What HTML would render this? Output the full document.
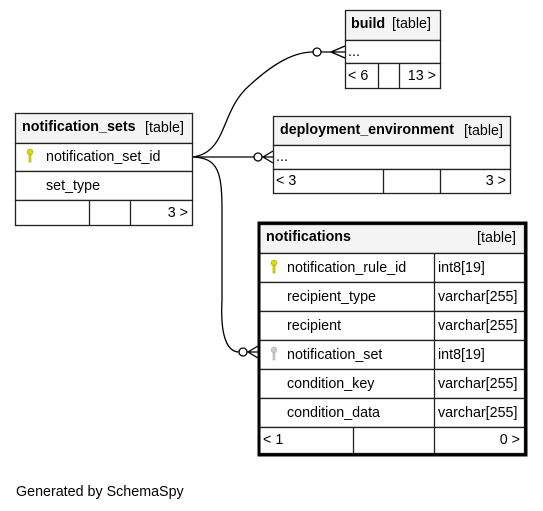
<!DOCTYPE html>
<html><head><style>
body{margin:0;background:#fff;}
svg{display:block;font-family:"Liberation Sans",Helvetica,Arial,sans-serif;font-size:14.3px;}
</style></head><body>
<svg width="543" height="511" viewBox="0 0 543 511">
<g fill="none" stroke="#000" stroke-width="1.3">
<path d="M193,157 C228,152 220,110 250,85 C275,62 295,52 313,52"/>
<circle cx="317" cy="52" r="4" fill="#fff"/>
<path d="M321,52 L345,52 M331,52 L345,46 M331,52 L345,58"/>
<path d="M193,157 L254,157"/>
<circle cx="258" cy="157" r="4" fill="#fff"/>
<path d="M262,157 L273,157 M263,157 L273,151 M263,157 L273,163"/>
<path d="M193,157 C218,158 222,172 222,210 L222,300 C220,338 228,352 239,352"/>
<circle cx="243" cy="352" r="4" fill="#fff"/>
<path d="M247,352 L258,352 M248,352 L258,346 M248,352 L258,358"/>
</g>
<!-- build -->
<g stroke="#222" stroke-width="1.3">
<rect x="345.5" y="10.5" width="95" height="30" fill="#f4f4f4"/>
<rect x="345.5" y="40.5" width="95" height="23" fill="#fff"/>
<rect x="345.5" y="63.5" width="95" height="25" fill="#fff"/>
<line x1="378.5" y1="63.5" x2="378.5" y2="88.5"/><line x1="399.5" y1="63.5" x2="399.5" y2="88.5"/>
</g>
<text x="351" y="28" font-weight="bold">build</text><text x="392" y="28">[table]</text>
<text x="348" y="56">...</text><text x="348" y="80">&lt; 6</text><text x="436" y="80" text-anchor="end">13 &gt;</text>
<!-- notification_sets -->
<g stroke="#222" stroke-width="1.3">
<rect x="15.5" y="113.5" width="177" height="30" fill="#f4f4f4"/>
<rect x="15.5" y="143.5" width="177" height="28" fill="#fff"/>
<rect x="15.5" y="171.5" width="177" height="29" fill="#fff"/>
<rect x="15.5" y="200.5" width="177" height="25" fill="#fff"/>
<line x1="89.5" y1="200.5" x2="89.5" y2="225.5"/><line x1="130.5" y1="200.5" x2="130.5" y2="225.5"/>
</g>
<text x="22" y="131" font-weight="bold">notification_sets</text><text x="145" y="132">[table]</text>
<g fill="#e0e000" stroke="#aaa000" stroke-width=".6"><circle cx="30" cy="152" r="2.8"/><rect x="29" y="154" width="2" height="8"/></g>
<text x="46" y="161">notification_set_id</text>
<text x="46" y="190">set_type</text>
<text x="188" y="217" text-anchor="end">3 &gt;</text>
<!-- deployment_environment -->
<g stroke="#222" stroke-width="1.3">
<rect x="273.5" y="116.5" width="237" height="29" fill="#f4f4f4"/>
<rect x="273.5" y="145.5" width="237" height="24" fill="#fff"/>
<rect x="273.5" y="169.5" width="237" height="24" fill="#fff"/>
<line x1="383.5" y1="169.5" x2="383.5" y2="193.5"/><line x1="440.5" y1="169.5" x2="440.5" y2="193.5"/>
</g>
<text x="280" y="134" font-weight="bold">deployment_environment</text><text x="464" y="135">[table]</text>
<text x="276" y="161">...</text><text x="276" y="185">&lt; 3</text><text x="506" y="185" text-anchor="end">3 &gt;</text>
<!-- notifications -->
<g stroke="#222" stroke-width="1.3" fill="#fff">
<rect x="259.5" y="224.5" width="265" height="29" fill="#f4f4f4"/>
<rect x="259.5" y="253.5" width="265" height="29"/>
<rect x="259.5" y="282.5" width="265" height="29"/>
<rect x="259.5" y="311.5" width="265" height="29"/>
<rect x="259.5" y="340.5" width="265" height="29"/>
<rect x="259.5" y="369.5" width="265" height="29"/>
<rect x="259.5" y="398.5" width="265" height="29"/>
<rect x="259.5" y="427.5" width="265" height="26"/>
<line x1="434.5" y1="253.5" x2="434.5" y2="453.5"/><line x1="353.5" y1="427.5" x2="353.5" y2="453.5"/>
</g>
<rect x="259" y="223" width="267" height="232" fill="none" stroke="#000" stroke-width="3"/>
<text x="266" y="241" font-weight="bold">notifications</text><text x="516" y="242" text-anchor="end">[table]</text>
<g fill="#e0e000" stroke="#aaa000" stroke-width=".6"><circle cx="274" cy="263" r="2.8"/><rect x="273" y="265" width="2" height="8"/></g>
<g fill="#ccc" stroke="#aaa" stroke-width=".6"><circle cx="274" cy="350" r="2.8"/><rect x="273" y="352" width="2" height="8"/></g>
<text x="287" y="272">notification_rule_id</text><text x="438" y="272">int8[19]</text>
<text x="287" y="301">recipient_type</text><text x="438" y="301">varchar[255]</text>
<text x="287" y="330">recipient</text><text x="438" y="330">varchar[255]</text>
<text x="287" y="359">notification_set</text><text x="438" y="359">int8[19]</text>
<text x="287" y="388">condition_key</text><text x="438" y="388">varchar[255]</text>
<text x="287" y="417">condition_data</text><text x="438" y="417">varchar[255]</text>
<text x="263" y="444">&lt; 1</text><text x="520" y="444" text-anchor="end">0 &gt;</text>
<text x="16" y="496">Generated by SchemaSpy</text>
</svg>
</body></html>
